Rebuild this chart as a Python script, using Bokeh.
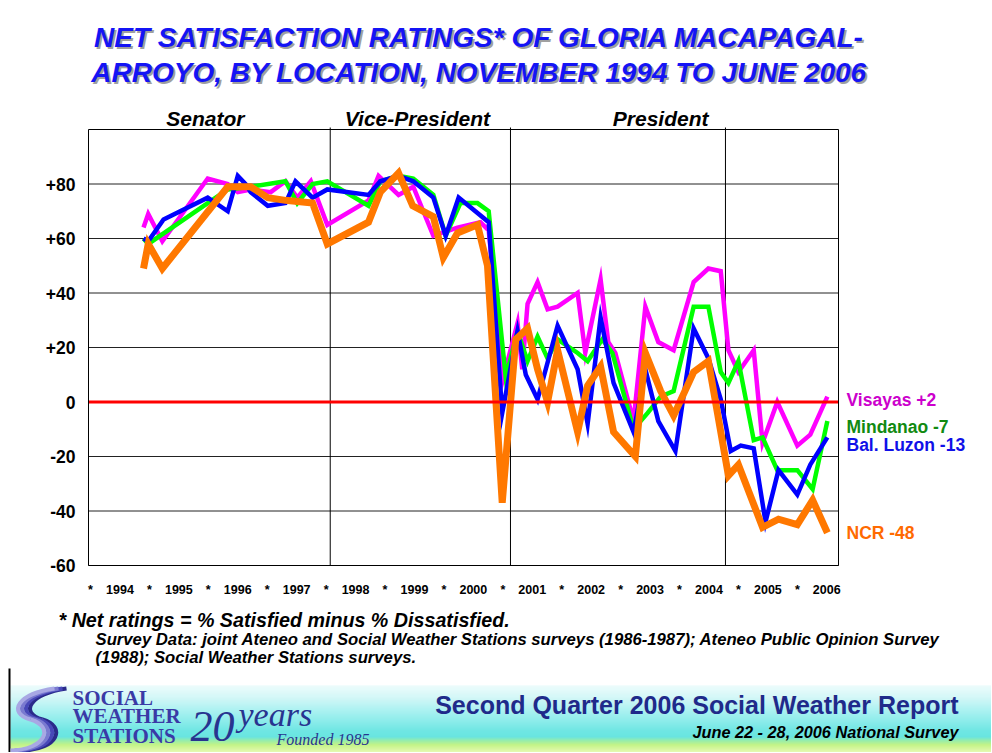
from bokeh.plotting import figure
from bokeh.models import Range1d
from bokeh.embed import file_html
from bokeh.resources import INLINE
from bokeh.core.properties import value

# ---------------- data ----------------
visayas_x = [1994.90, 1994.98, 1995.22, 1995.99, 1996.33, 1996.50, 1996.72, 1997.06, 1997.31,
             1997.51, 1997.74, 1998.02, 1998.72, 1998.89, 1999.23, 1999.48, 1999.82, 2000.23,
             2000.62, 2000.76, 2001.01, 2001.25, 2001.33, 2001.42, 2001.59, 2001.76, 2001.93,
             2002.27, 2002.40, 2002.66, 2002.79, 2002.91, 2003.22, 2003.42, 2003.64, 2003.90,
             2004.24, 2004.49, 2004.70, 2004.83, 2005.00, 2005.26, 2005.41, 2005.66, 2006.00,
             2006.22, 2006.51]
visayas_y = [64, 69, 59, 82, 80, 77, 78, 77, 81, 75, 81, 65, 74, 83, 76, 79, 61, 64, 66, 63, 9,
             29, 12, 36, 44, 34, 35, 40, 18, 45, 22, 18, -7, 35, 22, 19, 44, 49, 48, 19, 11, 19,
             -15, 0, -16, -12, 2]

mindanao_x = [1994.90, 1994.98, 1995.99, 1996.33, 1996.72, 1997.31, 1997.51, 1997.77, 1998.02,
              1998.72, 1998.92, 1999.23, 1999.48, 1999.82, 2000.03, 2000.28, 2000.57, 2000.76,
              2001.05, 2001.25, 2001.42, 2001.59, 2001.76, 2001.93, 2002.27, 2002.44, 2002.69,
              2002.86, 2003.22, 2003.46, 2003.68, 2003.90, 2004.24, 2004.49, 2004.70, 2004.83,
              2005.00, 2005.26, 2005.41, 2005.66, 2006.00, 2006.26, 2006.51]
mindanao_y = [60, 58, 73, 78, 79, 81, 73, 80, 81, 72, 81, 83, 82, 76, 61, 73, 73, 70, 9, 26, 15,
              24, 16, 23, 18, 15, 23, 18, -10, -4, 2, 4, 35, 35, 11, 7, 15, -14, -13, -25, -25,
              -32, -7]

balluzon_x = [1994.90, 1994.98, 1995.24, 1995.99, 1996.33, 1996.50, 1996.63, 1996.72, 1997.01,
              1997.31, 1997.48, 1997.77, 1998.02, 1998.72, 1998.92, 1999.23, 1999.48, 1999.82,
              2000.03, 2000.25, 2000.76, 2000.99, 2001.25, 2001.39, 2001.59, 2001.93, 2002.27,
              2002.44, 2002.66, 2002.88, 2003.22, 2003.42, 2003.64, 2003.93, 2004.24, 2004.49,
              2004.70, 2004.87, 2005.04, 2005.26, 2005.46, 2005.68, 2006.00, 2006.22, 2006.51]
balluzon_y = [60, 59, 67, 75, 70, 83, 80, 77, 72, 73, 81, 75, 78, 76, 81, 83, 81, 75, 61, 75, 66,
              -4, 26, 10, 1, 28, 12, -8, 31, 7, -11, 12, -7, -18, 27, 16, 1, -18, -16, -17, -44,
              -25, -34, -23, -13]

ncr_x = [1994.90, 1994.98, 1995.22, 1996.33, 1996.72, 1997.01, 1997.31, 1997.77, 1998.02,
         1998.72, 1998.92, 1999.23, 1999.47, 1999.82, 1999.99, 2000.23, 2000.57, 2000.74,
         2000.99, 2001.22, 2001.42, 2001.59, 2001.76, 2001.93, 2002.27, 2002.44, 2002.66,
         2002.88, 2003.25, 2003.42, 2003.68, 2003.90, 2004.24, 2004.49, 2004.83, 2005.00,
         2005.41, 2005.68, 2006.00, 2006.26, 2006.51]
ncr_y = [49, 58, 49, 79, 79, 75, 74, 73, 58, 66, 77, 84, 72, 68, 53, 62, 65, 50, -37, 23, 27, 12,
         0, 19, -11, 6, 13, -11, -20, 18, 4, -5, 11, 15, -27, -23, -46, -43, -45, -36, -48]

year_labels = ["1994", "1995", "1996", "1997", "1998", "1999", "2000", "2001", "2002", "2003",
               "2004", "2005", "2006"]
y_ticks = [-60, -40, -20, 0, 20, 40, 60, 80]
y_tick_labels = ["-60", "-40", "-20", "0", "+20", "+40", "+60", "+80"]
section_names = ["Senator", "Vice-President", "President"]
section_centers = [1995.95, 1999.55, 2003.68]
section_breaks = [1998.07, 2001.13, 2004.78]
series_names = ["Visayas +2", "Mindanao -7", "Bal. Luzon -13", "NCR -48"]

title_lines = ["NET SATISFACTION RATINGS* OF GLORIA MACAPAGAL-",
               "ARROYO, BY LOCATION, NOVEMBER 1994 TO JUNE 2006"]
note_lines = ["* Net ratings = % Satisfied minus % Dissatisfied.",
              "Survey Data: joint Ateneo and Social Weather Stations surveys  (1986-1987); Ateneo Public Opinion Survey",
              "(1988); Social Weather Stations surveys."]

SANS = "Liberation Sans"
SERIF = "Liberation Serif"

# ---------------- scales: chart frame in page pixels ----------------
W, H = 991, 752
X0, X1 = 1993.966, 2006.699        # chart x extent (frame 88 .. 838 px)
YB, YT = -60, 100                   # chart y extent (frame 565 .. 129 px)
PXX = 750.0 / (X1 - X0)
PXY = 436.0 / (YT - YB)


def X(px):
    return X0 + (px - 88) / PXX


def Y(py):
    return YT - (py - 129) / PXY


p = figure(width=W, height=H, x_range=Range1d(X(0), X(W)), y_range=Range1d(Y(H), Y(0)),
           output_backend="svg", toolbar_location=None, title=None,
           x_axis_location=None, y_axis_location=None, min_border=0)
p.grid.visible = False
p.outline_line_color = None
p.background_fill_color = "white"
p.border_fill_color = "white"

# grid, section dividers
p.segment(x0=X0, x1=X1, y0=y_ticks, y1=y_ticks, line_color="#222222", line_width=1)
p.segment(x0=section_breaks, x1=section_breaks, y0=YB, y1=Y(127), line_color="black",
          line_width=1)

# series
p.line(visayas_x, visayas_y, line_color="#ff00ff", line_width=4.5, line_join="miter")
p.line(mindanao_x, mindanao_y, line_color="#00ff00", line_width=4.5, line_join="miter")
p.line(balluzon_x, balluzon_y, line_color="#0000ff", line_width=4.5, line_join="miter")
p.line(ncr_x, ncr_y, line_color="#ff7800", line_width=7, line_join="miter")

# zero line and frame
p.segment(x0=[X0], x1=[X1], y0=[0], y1=[0], line_color="#ff0000", line_width=3)
p.quad(left=[X0], right=[X1], bottom=[YB], top=[YT], fill_color=None, line_color="black",
       line_width=1)

MID = "middle"

# tick labels
p.text(x=X(75), y=y_ticks, text=y_tick_labels, text_align="right", text_baseline=MID,
       text_font=value(SANS), text_font_style="bold", text_font_size="17.5px",
       text_color="black")
xt, xl = [], []
for yl in year_labels:
    xt += [int(yl), int(yl) + 0.5]
    xl += ["*", yl]
p.text(x=xt, y=Y(589), text=xl, text_align="center", text_baseline=MID,
       text_font=value(SANS), text_font_style="bold", text_font_size="12.5px",
       text_color="black")

# section headers
p.text(x=section_centers, y=Y(117.5), text=section_names, text_align="center",
       text_baseline=MID, text_font=value(SANS), text_font_style="bold italic",
       text_font_size="21px", text_color="black")

# title with shadow
p.text(x=X(480.5), y=[Y(38.5), Y(73.5)], text=title_lines, text_align="center",
       text_baseline=MID, text_font=value(SANS), text_font_style="bold italic",
       text_font_size="28px", text_color="#a0a0a0")
p.text(x=X(478.5), y=[Y(36.5), Y(71.5)], text=title_lines, text_align="center",
       text_baseline=MID, text_font=value(SANS), text_font_style="bold italic",
       text_font_size="28px", text_color="#1414f5")

# end labels
end_colors = ["#cc00cc", "#118a11", "#1010e8", "#ff6a00"]
end_mid = [399.5, 426, 444, 532]
p.text(x=X(846), y=[Y(b) for b in end_mid], text=series_names, text_align="left",
       text_baseline=MID, text_font=value(SANS), text_font_style="bold",
       text_font_size="17.5px", text_color=end_colors)

# foot notes
p.text(x=[X(58)], y=[Y(619.5)], text=note_lines[:1], text_align="left",
       text_baseline=MID, text_font=value(SANS), text_font_style="bold italic",
       text_font_size="19.7px", text_color="black")
p.text(x=X(95), y=[Y(638.5), Y(657)], text=note_lines[1:], text_align="left",
       text_baseline=MID, text_font=value(SANS), text_font_style="bold italic",
       text_font_size="16.7px", text_color="black")

# ---------------- footer band ----------------
stops = [(685, (230, 251, 251)), (697, (196, 244, 244)), (708, (150, 238, 238)),
         (720, (104, 230, 228)), (730, (64, 222, 218)), (736, (56, 220, 214)),
         (740, (120, 232, 140)), (744, (176, 240, 96)), (752, (226, 248, 160))]
tops, bots, cols = [], [], []
for k in range(len(stops) - 1):
    (ya, ca), (yb, cb) = stops[k], stops[k + 1]
    n = yb - ya
    for j in range(n):
        t = j / n
        c = tuple(int(round(ca[m] + (cb[m] - ca[m]) * t)) for m in range(3))
        tops.append(Y(ya + j - 0.1))
        bots.append(Y(ya + j + 1.1))
        cols.append("#%02x%02x%02x" % c)
p.quad(left=X(10), right=X(W + 2), top=tops, bottom=bots, fill_color=cols, line_color=None)
p.segment(x0=[X(9)], y0=[Y(668)], x1=[X(9)], y1=[Y(H)], line_color="black", line_width=2)

# swoosh logo
sw_cols = ["#2a2a8a", "#4848b8", "#7a7ad0", "#a8a8e4"]
for k, c in enumerate(sw_cols):
    d = k * 4
    p.bezier(x0=[X(66 - d)], y0=[Y(688)], x1=[X(42 - d)], y1=[Y(719)],
             cx0=[X(30 - d)], cy0=[Y(693)], cx1=[X(18 - d)], cy1=[Y(712)],
             line_color=c, line_width=4)
    p.bezier(x0=[X(42 - d)], y0=[Y(719)], x1=[X(22 - d)], y1=[Y(750)],
             cx0=[X(66 - d)], cy0=[Y(726)], cx1=[X(58 - d)], cy1=[Y(749)],
             line_color=c, line_width=4)

p.text(x=X(72), y=[Y(697), Y(715.5), Y(735)], text=["SOCIAL", "WEATHER", "STATIONS"],
       text_font=value(SERIF), text_font_style="bold", text_font_size="21px",
       text_color="#3a3aa6", text_baseline=MID)
p.text(x=[X(190)], y=[Y(726)], text=["20"], text_font=value(SERIF), text_font_style="italic",
       text_font_size="44px", text_color="#28348f", text_baseline=MID)
p.text(x=[X(238)], y=[Y(714)], text=["years"], text_font=value(SERIF),
       text_font_style="italic", text_font_size="34px", text_color="#28348f",
       text_baseline=MID)
p.text(x=[X(276)], y=[Y(739)], text=["Founded 1985"], text_font=value(SERIF),
       text_font_style="italic", text_font_size="16px", text_color="#28348f",
       text_baseline=MID)

p.text(x=[X(958)], y=[Y(704)], text=["Second Quarter 2006 Social Weather Report"],
       text_font=value(SANS), text_font_style="bold", text_font_size="25px",
       text_color="#1f2a8a", text_align="right", text_baseline=MID)
p.text(x=[X(958)], y=[Y(731)], text=["June 22 - 28, 2006 National Survey"],
       text_font=value(SANS), text_font_style="bold italic", text_font_size="16.3px",
       text_color="black", text_align="right", text_baseline=MID)

open("out.html", "w").write(file_html(p, INLINE))
